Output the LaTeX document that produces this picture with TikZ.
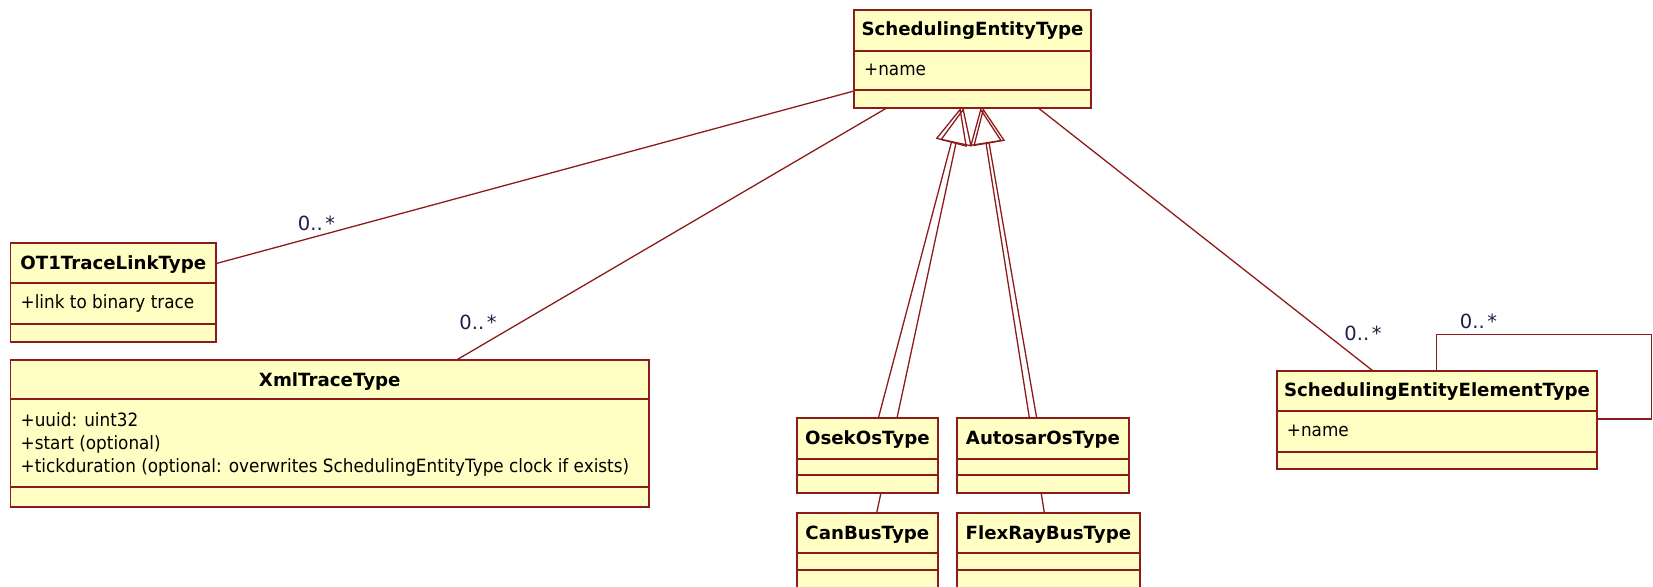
\documentclass[tikz,border=0pt]{standalone}
\usepackage{fontspec}
\setmainfont{DejaVu Sans}
\newfontfamily\attrfont[FakeStretch=0.92]{DejaVu Sans}
\usetikzlibrary{arrows.meta,calc}
\definecolor{umlline}{HTML}{8E1B1B}
\definecolor{umlfill}{HTML}{FFFFC4}
\definecolor{multtext}{HTML}{1E1E46}
\pgfdeclarelayer{background}
\pgfsetlayers{background,main}
% multiplicity text "0..*" with a little air before the star
\newcommand{\manymult}{0..\kern2.5pt*}

\begin{document}
\begin{tikzpicture}[x=1pt,y=-1pt,
  classbox/.style={draw=umlline, fill=umlfill, line width=1.8pt, inner sep=0pt, outer sep=0pt, anchor=north west},
  divider/.style={draw=umlline, line width=1.8pt},
  classname/.style={font=\fontsize{18.2}{22}\selectfont\bfseries, inner sep=0pt, anchor=base},
  attr/.style={font=\attrfont\fontsize{18.3}{22}\selectfont, inner sep=0pt, anchor=base west},
  mult/.style={font=\fontsize{19.5}{23}\selectfont, text=multtext, inner sep=0pt, anchor=base},
  assoc/.style={draw=umlline, line width=1.3pt},
  generalization/.style={draw=umlline, line width=1.3pt, -{Triangle[open, length=36pt, width=32pt]}},
]
\useasboundingbox (0,0) rectangle (1653,586);

% ---- class boxes ----
\node[classbox, minimum width=237,   minimum height=98]    (set)  at (854,10)      {};
\node[classbox, minimum width=205.5, minimum height=98.4]  (ot1)  at (10.5,243.3)  {};
\node[classbox, minimum width=638.5, minimum height=146.7] (xml)  at (10.5,360)    {};
\node[classbox, minimum width=141.3, minimum height=74.4]  (osek) at (796.7,418.3) {};
\node[classbox, minimum width=172.6, minimum height=74.4]  (auto) at (956.7,418.3) {};
\node[classbox, minimum width=141.3, minimum height=100]   (can)  at (796.7,512.7) {};
\node[classbox, minimum width=183.3, minimum height=100]   (flex) at (956.7,512.7) {};
\node[classbox, minimum width=320.6, minimum height=98.3]  (seet) at (1276.7,370.7) {};

% ---- compartment dividers ----
\foreach \cls/\ya/\yb in {set/50.7/90, ot1/282.7/324, xml/399.3/487.3, osek/459/475,
                          auto/459/475, can/553.3/570, flex/553.3/570, seet/410.7/451.7}{
  \draw[divider] (\cls.west |- 0,\ya) -- (\cls.east |- 0,\ya);
  \draw[divider] (\cls.west |- 0,\yb) -- (\cls.east |- 0,\yb);
}

% ---- class names ----
\node[classname] (set-name)  at (set.north  |- 0,36)    {SchedulingEntityType};
\node[classname] (ot1-name)  at (ot1.north  |- 0,269.3) {OT1TraceLinkType};
\node[classname] (xml-name)  at (xml.north  |- 0,386)   {XmlTraceType};
\node[classname] (osek-name) at (osek.north |- 0,444.3) {OsekOsType};
\node[classname] (auto-name) at (auto.north |- 0,444.3) {AutosarOsType};
\node[classname] (can-name)  at (can.north  |- 0,539)   {CanBusType};
\node[classname] (flex-name) at (flex.north |- 0,539)   {FlexRayBusType};
\node[classname] (seet-name) at (seet.north |- 0,396.7) {SchedulingEntityElementType};

% ---- attributes ----
\node[attr] (set-a)  at (864,75)      {+name};
\node[attr] (ot1-a)  at (20.5,308.5)  {+link to binary trace};
\node[attr] (xml-a1) at (20.5,426)    {+uuid: uint32};
\node[attr] (xml-a2) at (20.5,449)    {+start (optional)};
\node[attr] (xml-a3) at (20.5,472)    {+tickduration (optional: overwrites SchedulingEntityType clock if exists)};
\node[attr] (seet-a) at (1286.7,436.5) {+name};

% ---- multiplicities ----
\node[mult] (m-ot1)  at (316.5,230.5) {\manymult};
\node[mult] (m-xml)  at (478,329.5)   {\manymult};
\node[mult] (m-seet) at (1363,340.5)  {\manymult};
\node[mult] (m-loop) at (1478.5,328)  {\manymult};

% ---- connectors (behind the boxes) ----
\coordinate (loop-corner) at (1651.6,334.3);
\begin{pgfonlayer}{background}
  % associations
  \draw[assoc] ($(set.north west)+(0,81)$) -- ($(ot1.north east)+(0,20.3)$);
  \draw[assoc] ($(set.south west)+(32.7,0)$) -- ($(xml.north west)+(446,0)$);
  \draw[assoc] ($(set.south west)+(184.3,0)$) -- ($(seet.north west)+(96,0)$);
  \draw[assoc] ($(seet.north west)+(160,0)$) |- (loop-corner) |- ($(seet.north east)+(0,48.3)$);
  % generalizations
  \draw[generalization] ($(can.north west)+(80,0)$)    -- ($(set.south west)+(109.5,0)$);
  \draw[generalization] ($(osek.north west)+(81.6,0)$) -- ($(set.south west)+(106.5,0)$);
  \draw[generalization] ($(flex.north west)+(87.6,0)$) -- ($(set.south west)+(126.5,0)$);
  \draw[generalization] ($(auto.north west)+(80,0)$)   -- ($(set.south west)+(129,0)$);
\end{pgfonlayer}
\end{tikzpicture}
\end{document}
